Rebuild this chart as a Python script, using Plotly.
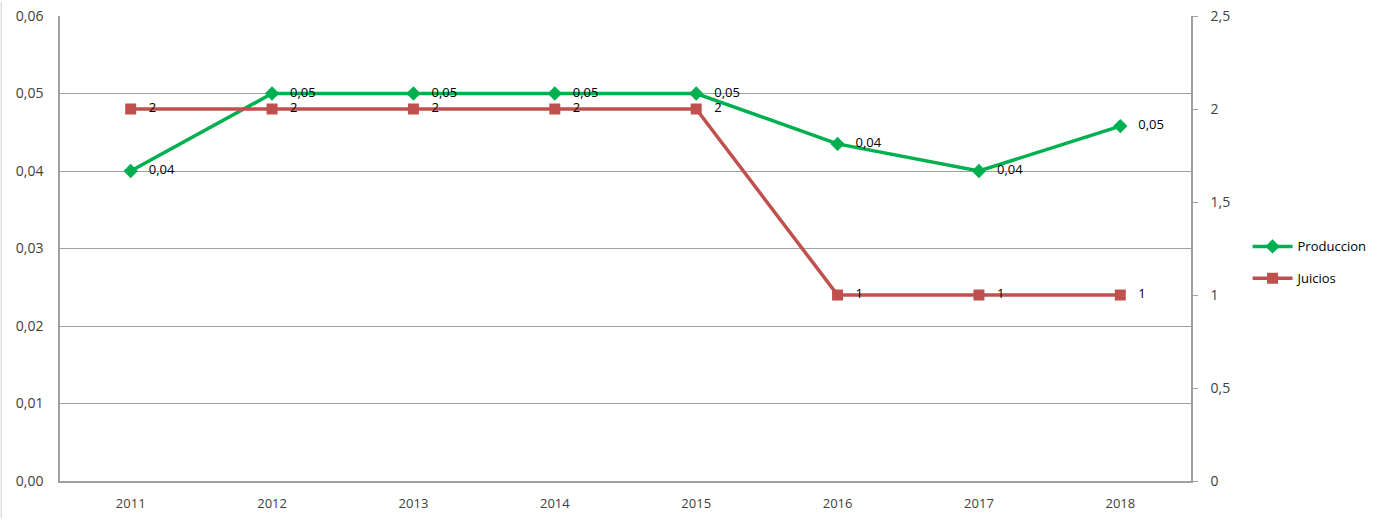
import plotly.graph_objects as go

years = ["2011", "2012", "2013", "2014", "2015", "2016", "2017", "2018"]
produccion = [0.04, 0.05, 0.05, 0.05, 0.05, 0.0435, 0.04, 0.0458]
juicios = [2, 2, 2, 2, 2, 1, 1, 1]
left_ticks = [0, 0.01, 0.02, 0.03, 0.04, 0.05, 0.06]
left_labels = ["0,00", "0,01", "0,02", "0,03", "0,04", "0,05", "0,06"]
right_ticks = [0, 0.5, 1, 1.5, 2, 2.5]
right_labels = ["0", "0,5", "1", "1,5", "2", "2,5"]

green = "#00B050"
red = "#C0504D"
font = "Open Sans"

def fmt(v):
    return f"{v:.2f}".replace(".", ",")

fig = go.Figure()
fig.add_trace(go.Scatter(
    x=years, y=produccion, name="Produccion", mode="lines+markers+text",
    legendgroup="a",
    line=dict(color=green, width=3.5),
    marker=dict(symbol="diamond", size=11, color=green),
    text=["   " + fmt(v) for v in produccion], textposition="middle right",
    textfont=dict(family=font, size=13, color="#000000"),
    cliponaxis=False,
))
fig.add_trace(go.Scatter(
    x=years, y=juicios, name="Juicios", mode="lines+markers+text", yaxis="y2",
    legendgroup="b",
    line=dict(color=red, width=3.5),
    marker=dict(symbol="square", size=11, color=red),
    text=["   " + str(v) for v in juicios], textposition="middle right",
    textfont=dict(family=font, size=13, color="#000000"),
    cliponaxis=False,
))

fig.update_layout(
    width=1393, height=520,
    margin=dict(l=60, r=202, t=16, b=39, autoexpand=False),
    paper_bgcolor="white", plot_bgcolor="white",
    font=dict(family=font, size=13, color="#404040"),
    xaxis=dict(
        type="category", range=[-0.5, 7.5], showgrid=False,
        showline=True, linecolor="#A0A0A0", linewidth=1.5,
        ticks="", tickfont=dict(size=13), zeroline=False, automargin=False,
        ticklabelstandoff=10,
    ),
    yaxis=dict(
        range=[0, 0.06], tickmode="array", tickvals=left_ticks, ticktext=left_labels,
        showgrid=True, gridcolor="#A0A0A0", gridwidth=1,
        showline=True, linecolor="#A0A0A0", linewidth=1.5,
        zeroline=False, ticks="", tickfont=dict(size=14), automargin=False,
        ticklabelstandoff=12, ticklabeloverflow="allow",
    ),
    yaxis2=dict(
        range=[0, 2.5], tickmode="array", tickvals=right_ticks, ticktext=right_labels,
        overlaying="y", side="right",
        showgrid=False, showline=True, linecolor="#A0A0A0", linewidth=1.5,
        ticks="outside", ticklen=5, tickcolor="#A0A0A0",
        zeroline=False, tickfont=dict(size=14), automargin=False,
        ticklabelstandoff=10, ticklabeloverflow="allow",
    ),
    legend=dict(
        x=1.05, y=0.47, xanchor="left", yanchor="middle",
        font=dict(family=font, size=13, color="#000000"),
        tracegroupgap=12, itemwidth=40,
    ),
)
fig.add_shape(type="line", xref="paper", yref="paper", x0=-0.052, x1=-0.052, y0=-0.08, y1=1.03,
              line=dict(color="#D0D0D0", width=1))

fig.write_html("out.html", config={"displayModeBar": False},
               post_script="document.body.style.margin='0px';")
